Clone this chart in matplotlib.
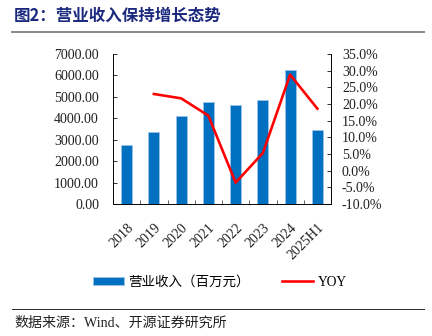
import matplotlib
matplotlib.use("Agg")
import matplotlib.pyplot as plt
from matplotlib.lines import Line2D
from matplotlib.ticker import FuncFormatter, MultipleLocator

plt.rcParams["axes.unicode_minus"] = False

years = ["2018", "2019", "2020", "2021", "2022", "2023", "2024", "2025H1"]
revenue = [2740, 3370, 4100, 4780, 4610, 4860, 6260, 3470]
yoy_years = ["2019", "2020", "2021", "2022", "2023", "2024", "2025H1"]
yoy = [23.0, 21.7, 16.5, -3.6, 5.3, 28.8, 18.6]

serif = ["Liberation Serif", "DejaVu Serif"]
cjk = ["Noto Sans CJK SC", "Liberation Serif"]
cjk_serif = ["Liberation Serif", "Noto Sans CJK SC"]

fig = plt.figure(figsize=(6, 336 / 72), dpi=72)
ax = fig.add_axes([113 / 432, 1 - 204 / 336, 218 / 432, 150 / 336])

x = list(range(len(years)))
ax.bar(x, revenue, width=0.4, color="#0070C0", edgecolor="#9DC3E6",
       linewidth=0.8, label="营业收入（百万元）", zorder=2)
ax.set_xlim(-0.5, len(years) - 0.5)
ax.set_ylim(0, 7000)
ax.yaxis.set_major_locator(MultipleLocator(1000))
ax.yaxis.set_major_formatter(FuncFormatter(lambda v, p: f"{v:.2f}"))
ax.set_xticks(x)
ax.set_xticklabels(years, rotation=45, ha="right", rotation_mode="anchor")
ax.set_xticks([i - 0.5 for i in range(len(years) + 1)], minor=True)
ax.tick_params(axis="x", which="major", length=0, pad=17)
ax.tick_params(axis="x", which="minor", direction="in", length=4)
ax.tick_params(axis="y", direction="in", length=4, pad=14)
ax.spines["top"].set_visible(False)

ax2 = ax.twinx()
xi = [years.index(y) for y in yoy_years]
ax2.plot(xi, yoy, color="#FF0000", linewidth=2.6, label="YOY", zorder=3)
ax2.set_ylim(-10, 35)
ax2.yaxis.set_major_locator(MultipleLocator(5))
ax2.yaxis.set_major_formatter(FuncFormatter(lambda v, p: f"{v:.1f}%"))
ax2.tick_params(axis="y", direction="in", length=4, pad=11)
ax2.spines["top"].set_visible(False)

for a in (ax, ax2):
    for lab in a.get_xticklabels() + a.get_yticklabels():
        lab.set_family(serif)
        lab.set_fontsize(14)
        lab.set_color("#222222")

h1, l1 = ax.get_legend_handles_labels()
h2, l2 = ax2.get_legend_handles_labels()
leg = fig.legend(h1 + h2, l1 + l2, loc="center", bbox_to_anchor=(220 / 432, 1 - 282 / 336),
                 ncol=2, frameon=False, handlelength=2.3, handleheight=0.55,
                 columnspacing=2.4, handletextpad=0.35,
                 prop={"family": cjk_serif, "size": 13.5})

fig.text(14 / 432, 1 - 16 / 336, "图2：营业收入保持增长态势", family=cjk,
         fontsize=16.5, fontweight="bold", color="#1C2A7E", va="center", ha="left")
fig.add_artist(Line2D([12 / 432, 424 / 432], [1 - 32 / 336] * 2, color="#8C8C8C", linewidth=2))
fig.add_artist(Line2D([12 / 432, 424 / 432], [1 - 309 / 336] * 2, color="#333333", linewidth=1))
fig.text(14 / 432, 1 - 323 / 336, "数据来源：Wind、开源证券研究所", family=cjk_serif,
         fontsize=14, color="#222222", va="center", ha="left")

fig.savefig("out.png", dpi=72)
